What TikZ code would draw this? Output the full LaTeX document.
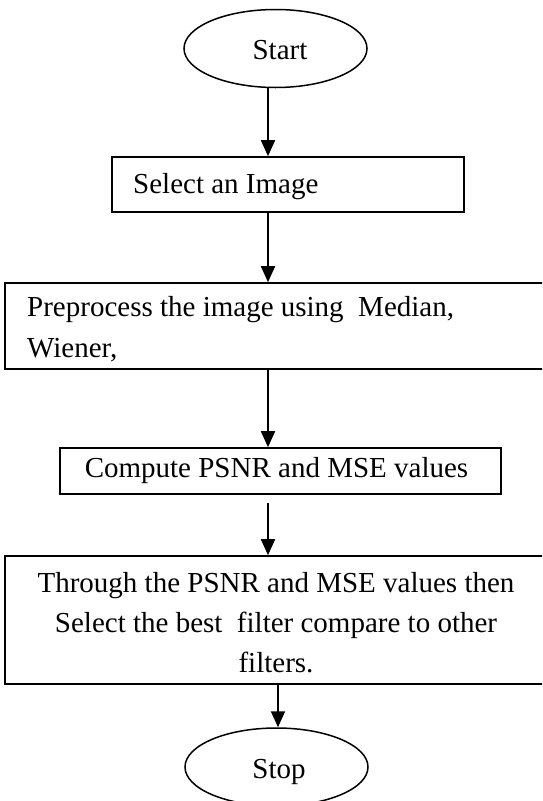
\documentclass[tikz,border=0pt]{standalone}
\usepackage{fontspec}
\setmainfont{Liberation Serif}
\usetikzlibrary{arrows.meta,shapes.geometric}
\begin{document}
\begin{tikzpicture}[x=1pt,y=-1pt,
  box/.style={draw,line width=1.6pt,rectangle,inner sep=0pt},
  oval/.style={draw,line width=1.5pt,ellipse,inner sep=0pt,minimum width=183pt,minimum height=78pt},
  lbl/.style={font=\fontsize{29}{40}\selectfont,inner sep=0pt},
  arr/.style={line width=1.8pt,-{Triangle[length=16pt,width=14pt]}}]
\clip (0,0) rectangle (542,801);
\fill[white] (0,0) rectangle (542,801);
\coordinate (ax) at (268,0);
\coordinate (bx) at (278,0);
% start
\node[oval] (start) at (275.5,48.5) {};
\node[lbl,anchor=base] (tstart) at (280,59) {Start};
% box 1
\node[box,minimum width=352pt,minimum height=55pt] (b1) at (288,184.5) {};
\node[lbl,anchor=base west] (t1) at (133,193) {Select an Image};
% box 2
\node[box,minimum width=560pt,minimum height=86pt] (b2) at (285,326) {};
\node[lbl,anchor=base west] (t2a) at (27,316) {Preprocess the image using~~Median,};
\node[lbl,anchor=base west] (t2b) at (27,357) {Wiener,};
% box 3
\node[box,minimum width=441pt,minimum height=46pt] (b3) at (280.5,471) {};
\node[lbl,anchor=base] (t3) at (276.5,477) {Compute PSNR and MSE values};
% box 4
\node[box,minimum width=560pt,minimum height=128pt] (b4) at (285,620) {};
\node[lbl,anchor=base] (t4a) at (276,592) {Through the PSNR and MSE values then};
\node[lbl,anchor=base] (t4b) at (276,632) {Select the best~~filter compare to other};
\node[lbl,anchor=base] (t4c) at (276,672) {filters.};
% stop
\node[oval] (stop) at (276.5,767) {};
\node[lbl,anchor=base] (tstop) at (279,778) {Stop};
% arrows
\draw[arr] (ax |- start.south) -- (ax |- b1.north);
\draw[arr] (ax |- b1.south) -- (ax |- b2.north);
\draw[arr] (ax |- b2.south) -- (ax |- b3.north);
\draw[arr,shorten <=8pt] (ax |- b3.south) -- (ax |- b4.north);
\draw[arr] (bx |- b4.south) -- (bx |- stop.north);
\end{tikzpicture}
\end{document}
